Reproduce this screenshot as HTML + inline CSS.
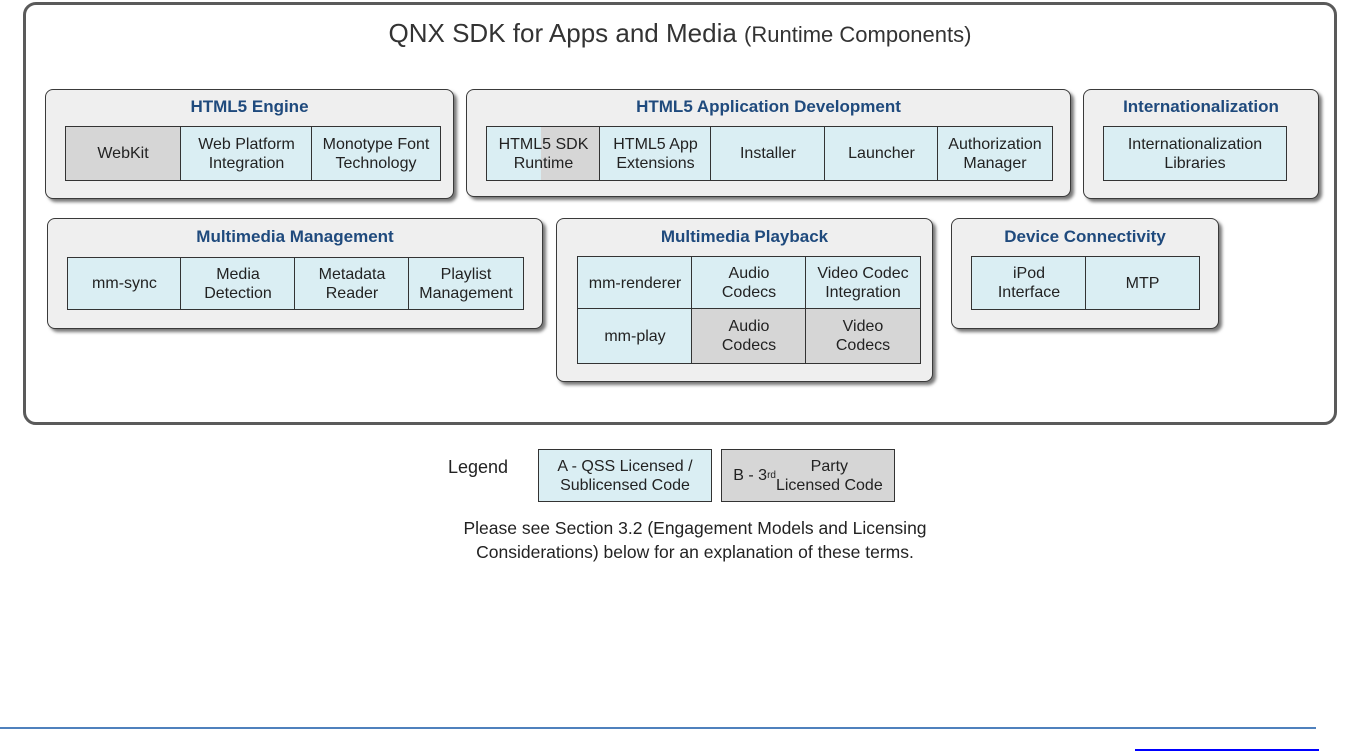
<!DOCTYPE html>
<html><head><meta charset="utf-8"><style>
body{margin:0;width:1347px;height:751px;background:#fff;position:relative;overflow:hidden;font-family:"Liberation Sans",Arial,sans-serif}
.a{position:absolute;box-sizing:border-box}
.outer{left:23px;top:2px;width:1314px;height:423px;border:3px solid #5a5a5a;border-radius:13px;background:#fff}
.g{background:#efefef;border:1.5px solid #3a3a3a;border-radius:8px;box-shadow:3px 3px 3px #777}
.t{text-align:center;font-weight:bold;font-size:17px;color:#1f4a7d;white-space:nowrap}
.c{display:flex;align-items:center;justify-content:center;text-align:center;font-size:16px;line-height:19px;color:#222;border:1.5px solid #333;background:#daeef3;white-space:nowrap}
.gr{background:#d6d6d6}
.ca{font-family:"Liberation Sans",sans-serif;color:#222}
</style></head><body>
<div class="a outer"></div>
<div class="a ca" style="left:0;width:1360px;top:18px;text-align:center;font-size:26px;color:#333">QNX SDK for Apps and Media <span style="font-size:22px">(Runtime Components)</span></div>

<div class="a g" style="left:45px;top:89px;width:409px;height:110px"></div>
<div class="a t" style="left:45px;width:409px;top:97px">HTML5 Engine</div>
<div class="a c gr" style="left:65px;top:126px;width:116px;height:55px">WebKit</div>
<div class="a c" style="left:180px;top:126px;width:133px;height:55px">Web Platform<br>Integration</div>
<div class="a c" style="left:311px;top:126px;width:130px;height:55px">Monotype Font<br>Technology</div>

<div class="a g" style="left:466px;top:89px;width:605px;height:108px"></div>
<div class="a t" style="left:466px;width:605px;top:97px">HTML5 Application Development</div>
<div class="a c" style="left:486px;top:126px;width:115px;height:55px;background:linear-gradient(90deg,#daeef3 0,#daeef3 48%,#d6d6d6 48%)">HTML5 SDK<br>Runtime</div>
<div class="a c" style="left:599px;top:126px;width:113px;height:55px">HTML5 App<br>Extensions</div>
<div class="a c" style="left:710px;top:126px;width:116px;height:55px">Installer</div>
<div class="a c" style="left:824px;top:126px;width:115px;height:55px">Launcher</div>
<div class="a c" style="left:937px;top:126px;width:116px;height:55px">Authorization<br>Manager</div>

<div class="a g" style="left:1083px;top:89px;width:236px;height:110px"></div>
<div class="a t" style="left:1083px;width:236px;top:97px">Internationalization</div>
<div class="a c" style="left:1103px;top:126px;width:184px;height:55px">Internationalization<br>Libraries</div>

<div class="a g" style="left:47px;top:218px;width:496px;height:111px"></div>
<div class="a t" style="left:47px;width:496px;top:227px">Multimedia Management</div>
<div class="a c" style="left:67px;top:257px;width:115px;height:53px">mm-sync</div>
<div class="a c" style="left:180px;top:257px;width:116px;height:53px">Media<br>Detection</div>
<div class="a c" style="left:294px;top:257px;width:116px;height:53px">Metadata<br>Reader</div>
<div class="a c" style="left:408px;top:257px;width:116px;height:53px">Playlist<br>Management</div>

<div class="a g" style="left:556px;top:218px;width:377px;height:164px"></div>
<div class="a t" style="left:556px;width:377px;top:227px">Multimedia Playback</div>
<div class="a c" style="left:577px;top:256px;width:116px;height:54px">mm-renderer</div>
<div class="a c" style="left:691px;top:256px;width:116px;height:54px">Audio<br>Codecs</div>
<div class="a c" style="left:805px;top:256px;width:116px;height:54px">Video Codec<br>Integration</div>
<div class="a c" style="left:577px;top:308px;width:116px;height:56px">mm-play</div>
<div class="a c gr" style="left:691px;top:308px;width:116px;height:56px">Audio<br>Codecs</div>
<div class="a c gr" style="left:805px;top:308px;width:116px;height:56px">Video<br>Codecs</div>

<div class="a g" style="left:951px;top:218px;width:268px;height:111px"></div>
<div class="a t" style="left:951px;width:268px;top:227px">Device Connectivity</div>
<div class="a c" style="left:971px;top:256px;width:116px;height:54px">iPod<br>Interface</div>
<div class="a c" style="left:1085px;top:256px;width:115px;height:54px">MTP</div>

<div class="a ca" style="left:448px;top:457px;font-size:18px">Legend</div>
<div class="a c" style="left:538px;top:449px;width:174px;height:53px;font-size:16px">A - QSS Licensed /<br>Sublicensed Code</div>
<div class="a c gr" style="left:721px;top:449px;width:174px;height:53px;font-size:16px">B - 3<sup style="font-size:10px;line-height:0">rd</sup> Party<br>Licensed Code</div>
<div class="a ca" style="left:395px;width:600px;top:516px;text-align:center;font-size:17.5px;line-height:24px">Please see Section 3.2 (Engagement Models and Licensing<br>Considerations) below for an explanation of these terms.</div>

<div class="a" style="left:0;top:727px;width:1316px;height:2px;background:#4f81bd"></div>
<div class="a" style="left:1135px;top:749px;width:184px;height:2px;background:#0000ff"></div>
</body></html>
